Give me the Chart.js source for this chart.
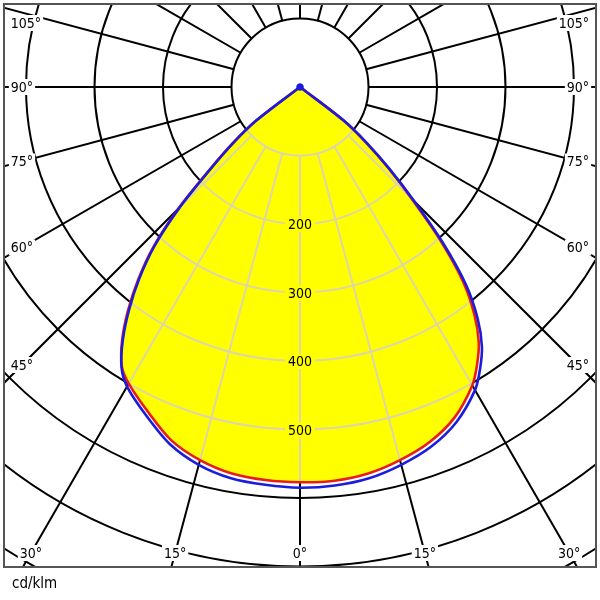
<!DOCTYPE html>
<html><head><meta charset="utf-8">
<script src="https://cdn.jsdelivr.net/npm/chart.js@4.4.1/dist/chart.umd.min.js"></script>
<style>html,body{margin:0;padding:0;background:#fff}#wrap{width:600px;height:600px}</style>
</head><body><div id="wrap"><canvas id="c" width="600" height="600"></canvas></div>
<script>
// Polar angles (degrees from nadir) and intensities in cd/klm
const angles    = [0, 5, 10, 15, 20, 25, 30, 32.5, 35, 37.5, 40, 42.5, 45, 47.5, 50, 52.5, 55];
const redLeft   = [577, 576, 573, 564, 549, 524, 500, 484, 453, 413, 368, 317, 251, 180, 130, 81, 0];
const redRight  = [577, 577, 573, 564, 552, 533, 503, 481, 455, 418, 370, 303, 231, 174, 125, 78, 0];
const blueLeft  = [585, 583, 580, 571, 555, 530, 505, 485, 451, 410, 365, 314, 248, 177, 128, 80, 0];
const blueRight = [585, 584, 580, 571, 559, 540, 511, 489, 463, 426, 377, 309, 236, 178, 128, 80, 0];

const gridRadii   = [100, 200, 300, 400, 500, 600, 700, 800, 900, 1000];
const gridAngles  = [0,15,30,45,60,75,90,105,120,135,150,165,180,195,210,225,240,255,270,285,300,315,330,345];
const angleTicks  = [0, 15, 30, 45, 60, 75, 90, 105];
const angleLabels = ['0°','15°','30°','45°','60°','75°','90°','105°'];
const radiusTicks = [200, 300, 400, 500];
const radiusLabels = ['200','300','400','500'];
const unitLabel = 'cd/klm';

function curve(left, right) {
  const pts = [];
  for (let i = angles.length - 1; i >= 0; i--) {
    const a = angles[i] * Math.PI / 180;
    pts.push({x: -left[i] * Math.sin(a), y: -left[i] * Math.cos(a)});
  }
  for (let i = 1; i < angles.length; i++) {
    const a = angles[i] * Math.PI / 180;
    pts.push({x: right[i] * Math.sin(a), y: -right[i] * Math.cos(a)});
  }
  return pts;
}
const redPts = curve(redLeft, redRight);
const bluePts = curve(blueLeft, blueRight);

const FONT = '"DejaVu Sans Condensed", "DejaVu Sans", sans-serif';
const TENSION = 0.3;

function drawGrid(chart, color) {
  const {ctx, chartArea: ca, scales: {x, y}} = chart;
  const cx = x.getPixelForValue(0), cy = y.getPixelForValue(0);
  const k = x.getPixelForValue(1) - cx;
  ctx.save();
  ctx.beginPath();
  ctx.rect(ca.left, ca.top, ca.right - ca.left, ca.bottom - ca.top);
  ctx.clip();
  ctx.strokeStyle = color;
  ctx.lineWidth = 2;
  gridRadii.forEach(r => {
    ctx.beginPath();
    ctx.arc(cx, cy, r * k, 0, Math.PI * 2);
    ctx.stroke();
  });
  gridAngles.forEach(a => {
    const t = a * Math.PI / 180;
    const dx = Math.sin(t), dy = Math.cos(t);
    ctx.beginPath();
    ctx.moveTo(cx + dx * gridRadii[0] * k, cy + dy * gridRadii[0] * k);
    ctx.lineTo(cx + dx * 2000 * k, cy + dy * 2000 * k);
    ctx.stroke();
  });
  ctx.restore();
}

const gridPlugin = {
  id: 'polarGrid',
  beforeDraw(chart) {
    const ctx = chart.ctx;
    ctx.save(); ctx.fillStyle = '#fff'; ctx.fillRect(0, 0, chart.width, chart.height); ctx.restore();
  },
  beforeDatasetsDraw(chart) { drawGrid(chart, '#000'); },
  afterDatasetDraw(chart, args) {
    if (args.index !== 0) return;
    const {ctx, scales: {x, y}} = chart;
    const meta = chart.getDatasetMeta(0);
    ctx.save();
    ctx.beginPath();
    if (meta.dataset && typeof meta.dataset.path === 'function') {
      meta.dataset.path(ctx);
    } else {
      meta.data.forEach((p, i) => i ? ctx.lineTo(p.x, p.y) : ctx.moveTo(p.x, p.y));
    }
    ctx.closePath();
    ctx.clip();
    drawGrid(chart, '#dcd6a8');
    ctx.restore();
    // radius labels
    ctx.save();
    ctx.font = '14px ' + FONT;
    ctx.textAlign = 'center';
    ctx.textBaseline = 'middle';
    const cx = x.getPixelForValue(0);
    radiusTicks.forEach((r, i) => {
      const py = y.getPixelForValue(-r);
      const w = ctx.measureText(radiusLabels[i]).width + 6;
      ctx.fillStyle = '#ffff00';
      ctx.fillRect(cx - w / 2, py - 7, w, 15);
      ctx.fillStyle = '#000';
      ctx.fillText(radiusLabels[i], cx, py + 1.5);
    });
    ctx.restore();
  },
  afterDraw(chart) {
    const {ctx, chartArea: ca, scales: {x, y}} = chart;
    const cx = x.getPixelForValue(0), cy = y.getPixelForValue(0);
    ctx.save();
    ctx.font = '14px ' + FONT;
    ctx.textAlign = 'center';
    ctx.textBaseline = 'middle';
    const xL = ca.left + 18, xR = ca.right - 18, yB = ca.bottom - 14, yT = ca.top + 19;
    angleTicks.forEach((a, i) => {
      const sides = a === 0 ? [1] : [-1, 1];
      sides.forEach(s => {
        const t = a * Math.PI / 180;
        const dx = s * Math.sin(t), dy = Math.cos(t);
        let tt = Infinity;
        if (Math.abs(dx) > 1e-6) tt = Math.min(tt, ((dx < 0 ? cx - xL : xR - cx)) / Math.abs(dx));
        if (dy > 1e-6) tt = Math.min(tt, (yB - cy) / dy);
        let px = cx + dx * tt, py = cy + dy * tt;
        if (py < yT) { py = yT; px += s * (-4); }
        const w = ctx.measureText(angleLabels[i]).width + 4;
        ctx.fillStyle = '#fff';
        ctx.fillRect(px - w / 2, py - 8, w, 16);
        ctx.fillStyle = '#000';
        ctx.fillText(angleLabels[i], px, py + 1);
      });
    });
    ctx.strokeStyle = '#555';
    ctx.lineWidth = 2;
    ctx.strokeRect(ca.left, ca.top, ca.right - ca.left, ca.bottom - ca.top);
    ctx.font = '15px ' + FONT;
    ctx.textAlign = 'left';
    ctx.fillStyle = '#000';
    ctx.fillText(unitLabel, 12, 584);
    ctx.restore();
  }
};

const PX_PER_UNIT = 0.685;
const halfW = 296 / PX_PER_UNIT;
new Chart(document.getElementById('c'), {
  type: 'scatter',
  data: {
    datasets: [
      {data: redPts, order: 3, showLine: true, fill: 'shape', backgroundColor: '#ffff00', borderWidth: 0, pointRadius: 0, tension: TENSION},
      {data: redPts, order: 2, showLine: true, fill: false, borderColor: '#e81c1c', borderWidth: 2.6, pointRadius: 0, tension: TENSION},
      {data: bluePts, order: 1, showLine: true, fill: false, borderColor: '#1c1cdc', borderWidth: 2.6, tension: TENSION,
       pointRadius: c => (c.raw && c.raw.x === 0 && c.raw.y === 0) ? 3.5 : 0,
       pointBackgroundColor: '#1c1cdc', pointBorderWidth: 0}
    ]
  },
  options: {
    responsive: false,
    animation: false,
    devicePixelRatio: 1,
    layout: {padding: {left: 4, right: 4, top: 4, bottom: 33}},
    scales: {
      x: {type: 'linear', display: false, min: -halfW, max: halfW},
      y: {type: 'linear', display: false, min: -480 / PX_PER_UNIT, max: 83 / PX_PER_UNIT}
    },
    plugins: {legend: {display: false}, tooltip: {enabled: false}}
  },
  plugins: [gridPlugin]
});
</script>
</body></html>
